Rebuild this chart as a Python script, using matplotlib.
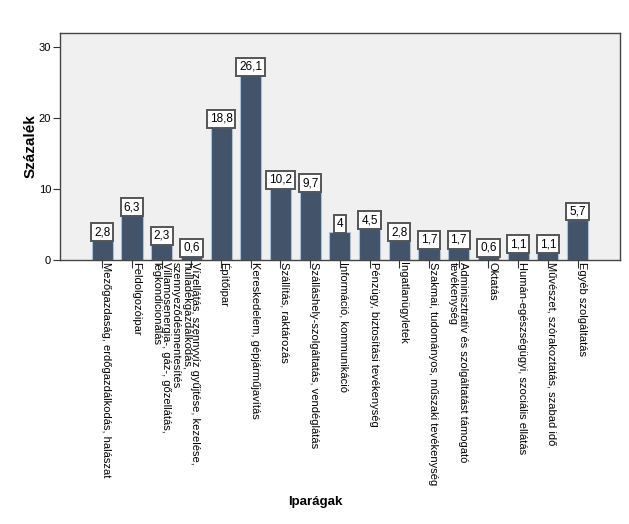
import matplotlib
matplotlib.use('Agg')
import matplotlib.pyplot as plt
import matplotlib.transforms as mtransforms

plt.rcParams['font.family'] = ['Liberation Sans', 'DejaVu Sans']

industries = [
    "Mezőgazdaság, erdőgazdálkodás, halászat",
    "Feldolgozóipar",
    "Villamosenergia-, gáz-, gőzellátás,\nlégkondicionálás",
    "Vízellátás, szennyvíz gyűjtése, kezelése,\nhulladékgazdálkodás,\nszennyeződésmentesítés",
    "Építőipar",
    "Kereskedelem, gépjárműjavítás",
    "Szállítás, raktározás",
    "Szálláshely-szolgáltatás, vendéglátás",
    "Információ, kommunikáció",
    "Pénzügy, biztosítási tevékenység",
    "Ingatlanügyletek",
    "Szakmai, tudományos, műszaki tevékenység",
    "Adminisztratív és szolgáltatást támogató\ntevékenység",
    "Oktatás",
    "Humán-egészségügyi, szociális ellátás",
    "Művészet, szórakoztatás, szabad idő",
    "Egyéb szolgáltatás",
]
percent = [2.8, 6.3, 2.3, 0.6, 18.8, 26.1, 10.2, 9.7, 4, 4.5, 2.8, 1.7, 1.7, 0.6, 1.1, 1.1, 5.7]
y_ticks = [0, 10, 20, 30]


def fmt(v):
    s = ('%.1f' % v).replace('.', ',')
    return s[:-2] if s.endswith(',0') else s


fig = plt.figure(figsize=(6.29, 5.24), dpi=100)
ax = fig.add_axes([0.0946, 0.5038, 0.8911, 0.4332])
ax.set_facecolor('#f0f0f0')

x = range(len(industries))
ax.bar(x, percent, width=0.71, color='#435369', edgecolor='#a9c1dd', linewidth=0.8, zorder=2)

for i, v in enumerate(percent):
    ax.annotate(fmt(v), (i, v), xytext=(0, 1.5), textcoords='offset points',
                ha='center', va='bottom', fontsize=8.5, zorder=3,
                bbox=dict(boxstyle='square,pad=0.25', fc='white', ec='#555555', lw=1.4))

ax.set_xlim(-1.44, len(industries) - 1 + 1.43)
ax.set_ylim(0, 32)
ax.set_yticks(y_ticks)
ax.set_xticks(list(x))
ax.set_xticklabels([])

# rotated category labels: first line just right of the tick, extra lines to the left
shift = mtransforms.ScaledTranslation(9 / 100, -2 / 100, fig.dpi_scale_trans)
for i, lab in enumerate(industries):
    ax.text(i, 0, lab, transform=ax.get_xaxis_transform() + shift,
            rotation=-90, rotation_mode='anchor', ha='left', va='top',
            fontsize=8, linespacing=0.95, clip_on=False)

ax.tick_params(axis='x', length=6, color='#333333')
ax.tick_params(axis='y', length=5, labelsize=8, color='#333333', pad=1)

for s in ax.spines.values():
    s.set_color('#444444')
    s.set_linewidth(1)

ax.set_ylabel('Százalék', fontsize=11, fontweight='bold', labelpad=1)
fig.text(315 / 629, 1 - 502 / 524, 'Iparágak', ha='center', va='center',
         fontsize=9.5, fontweight='bold')

fig.savefig('out.png', dpi=100, facecolor='white')
